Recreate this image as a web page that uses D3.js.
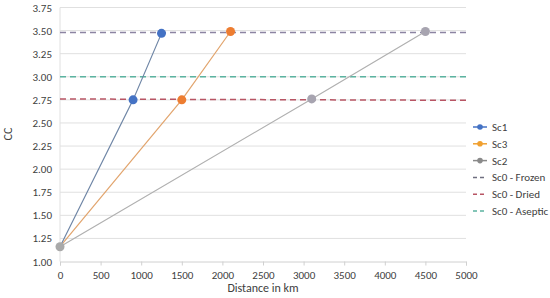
<!DOCTYPE html>
<html>
<head>
<meta charset="utf-8">
<script src="https://cdn.jsdelivr.net/npm/d3@7"></script>
<style>
  body { margin: 0; background: #fff; }
  text { font-family: Calibri, Carlito, "Open Sans", "Noto Sans", sans-serif; fill: #404040; }
</style>
</head>
<body>
<svg id="chart" width="550" height="298"></svg>
<script>
// values
const sc1 = [[0, 1.16], [900, 2.75], [1250, 3.47]];
const sc3 = [[0, 1.16], [1500, 2.75], [2100, 3.49]];
const sc2 = [[0, 1.16], [3100, 2.76], [4500, 3.49]];
const frozen = [[0, 3.48], [5000, 3.48]];
const dried = [[0, 2.76], [5000, 2.745]];
const aseptic = [[0, 3.0], [5000, 3.0]];

const xTicks = d3.range(0, 5001, 500);
const yTicks = d3.range(1, 3.76, 0.25);

let margin = {top: 7.5, right: 84, bottom: 36.5, left: 60};
let width = 550 - margin.left - margin.right;
let height = 298 - margin.top - margin.bottom;

const svg = d3.select('#chart');
let chart = svg.append('g')
    .attr('transform', `translate(${margin.left}, ${margin.top})`);

let x = d3.scaleLinear().domain([0, 5000]).range([0, width]);
let y = d3.scaleLinear().domain([1, 3.75]).range([height, 0]);

// gridlines
chart.append('g')
    .selectAll('line')
    .data(yTicks.slice(1))
    .enter()
        .append('line')
        .attr('x1', 0).attr('x2', width)
        .attr('y1', d => y(d)).attr('y2', d => y(d))
        .attr('stroke', '#e0e0e0')
        .attr('stroke-width', 1);

// left axis line
chart.append('line')
    .attr('x1', 0).attr('x2', 0).attr('y1', 0).attr('y2', height)
    .attr('stroke', '#e0e0e0');

let yAxis = d3.axisLeft(y).tickValues(yTicks).tickFormat(d3.format('.2f')).tickSize(0).tickPadding(8);
chart.append('g')
    .call(yAxis)
    .call(g => g.select('.domain').remove())
    .selectAll('text')
    .style('font-size', '11px')
    .style('fill', '#404040');

let xAxis = d3.axisBottom(x).tickValues(xTicks).tickFormat(d3.format('d')).tickSize(4).tickPadding(6);
chart.append('g')
    .attr('transform', `translate(0, ${height})`)
    .call(xAxis)
    .call(g => g.select('.domain').attr('stroke', '#d0d0d0'))
    .call(g => g.selectAll('.tick line').attr('stroke', '#d0d0d0'))
    .selectAll('text')
    .style('font-size', '11px')
    .style('fill', '#404040');

// axis titles
svg.append('text')
    .attr('x', margin.left + width * 0.5)
    .attr('y', 292)
    .attr('text-anchor', 'middle')
    .style('font-size', '12px')
    .text('Distance in km');

svg.append('text')
    .attr('transform', 'translate(12, 134) rotate(-90)')
    .attr('text-anchor', 'middle')
    .style('font-size', '12px')
    .text('CC');

let line = d3.line().x(d => x(d[0])).y(d => y(d[1]));

// dashed reference lines
const refs = [
    {data: frozen, color: '#8c84a2'},
    {data: aseptic, color: '#5bb3a0'},
    {data: dried, color: '#b85564'}
];
refs.forEach(r => {
    chart.append('path')
        .datum(r.data)
        .attr('d', line)
        .attr('fill', 'none')
        .attr('stroke', r.color)
        .attr('stroke-width', 1.5)
        .attr('stroke-dasharray', '6,4');
});

const series = [
    {data: sc2, line: '#b0b0b0', dot: '#a7a4b0'},
    {data: sc3, line: '#e2a56e', dot: '#ed7d31'},
    {data: sc1, line: '#6f86a6', dot: '#4472c4'}
];
series.forEach(s => {
    chart.append('path')
        .datum(s.data)
        .attr('d', line)
        .attr('fill', 'none')
        .attr('stroke', s.line)
        .attr('stroke-width', 1.2);
    chart.append('g')
        .selectAll('circle')
        .data(s.data.slice(1))
        .enter()
            .append('circle')
            .attr('cx', d => x(d[0]))
            .attr('cy', d => y(d[1]))
            .attr('r', 4.5)
            .attr('fill', s.dot);
});

// shared starting point
chart.append('circle')
    .attr('cx', x(sc2[0][0]))
    .attr('cy', y(sc2[0][1]))
    .attr('r', 4.5)
    .attr('fill', '#a9a9a9');

// legend
const legendItems = [
    {name: 'Sc1', color: '#4472c4', dash: false},
    {name: 'Sc3', color: '#f0a030', dash: false},
    {name: 'Sc2', color: '#8a8a8a', dash: false},
    {name: 'Sc0 - Frozen', color: '#6f6f80', dash: true},
    {name: 'Sc0 - Dried', color: '#b85564', dash: true},
    {name: 'Sc0 - Aseptic', color: '#5bb3a0', dash: true}
];
let legend = svg.append('g').attr('transform', 'translate(473, 127)');
let items = legend.selectAll('g')
    .data(legendItems)
    .enter()
        .append('g')
        .attr('transform', (d, i) => `translate(0, ${i * 16.8})`);

items.append('line')
    .attr('x1', 0).attr('x2', 14)
    .attr('stroke', d => d.color)
    .attr('stroke-width', 1.5)
    .attr('stroke-dasharray', d => d.dash ? '4,3' : null);

items.filter(d => !d.dash)
    .append('circle')
    .attr('cx', 7)
    .attr('r', 2.8)
    .attr('fill', d => d.color);

items.append('text')
    .attr('x', 19)
    .attr('y', 4)
    .style('font-size', '11px')
    .text(d => d.name);
</script>
</body>
</html>
